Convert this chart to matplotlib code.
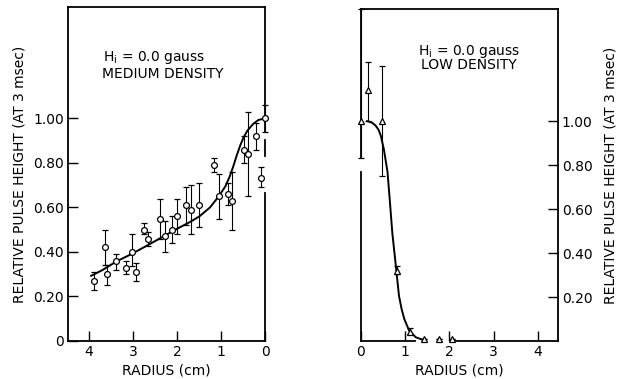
import matplotlib
matplotlib.use("Agg")
import matplotlib.pyplot as plt

# ---------------- data: medium density (left panel) ----------------
med_r = [3.89, 3.64, 3.58, 3.38, 3.15, 3.02, 2.94, 2.74, 2.65, 2.38, 2.28, 2.11,
         1.99, 1.80, 1.69, 1.49, 1.15, 1.05, 0.84, 0.75, 0.48, 0.39, 0.20, 0.00, 0.08]
med_h = [0.27, 0.42, 0.30, 0.36, 0.33, 0.40, 0.31, 0.50, 0.46, 0.55, 0.47, 0.50,
         0.56, 0.61, 0.59, 0.61, 0.79, 0.65, 0.66, 0.63, 0.86, 0.84, 0.92, 1.00, 0.73]
med_hi = [0.31, 0.50, 0.34, 0.39, 0.36, 0.48, 0.35, 0.53, 0.49, 0.64, 0.54, 0.56,
          0.64, 0.69, 0.70, 0.71, 0.82, 0.75, 0.71, 0.76, 0.92, 1.03, 0.98, 1.06, 0.78]
med_lo = [0.23, 0.34, 0.25, 0.32, 0.30, 0.335, 0.27, 0.48, 0.425, 0.46, 0.40, 0.44,
          0.48, 0.52, 0.48, 0.51, 0.76, 0.55, 0.61, 0.50, 0.80, 0.65, 0.86, 0.94, 0.69]
med_curve_r = [3.95, 3.70, 3.38, 3.02, 2.65, 2.28, 1.99, 1.70, 1.49, 1.25, 1.05,
               0.90, 0.80, 0.72, 0.64, 0.56, 0.49, 0.40, 0.27, 0.15, 0.00]
med_curve_h = [0.293, 0.318, 0.357, 0.392, 0.432, 0.473, 0.505, 0.535, 0.560, 0.600, 0.650,
               0.695, 0.740, 0.785, 0.835, 0.880, 0.913, 0.945, 0.975, 0.993, 1.000]

# ---------------- data: low density (right panel) ----------------
low_r = [0.00, 0.17, 0.47, 0.81, 1.10, 1.42, 1.76, 2.06]
low_h = [1.00, 1.14, 1.00, 0.32, 0.04, 0.01, 0.01, 0.01]
low_hi = [1.51, 1.27, 1.25, 0.34, 0.06, 0.01, 0.01, 0.01]
low_lo = [0.83, 1.00, 0.75, 0.305, 0.03, 0.01, 0.01, 0.01]
low_curve_r = [0.14, 0.25, 0.33, 0.40, 0.45, 0.52, 0.56, 0.60, 0.65, 0.71, 0.79,
               0.86, 0.92, 0.98, 1.09, 1.24, 1.39]
low_curve_h = [1.000, 0.993, 0.980, 0.960, 0.933, 0.870, 0.820, 0.770, 0.645, 0.490, 0.340,
               0.205, 0.145, 0.100, 0.047, 0.017, 0.006]

x_ticks = [0, 1, 2, 3, 4]
y_ticks_left = [0, 0.2, 0.4, 0.6, 0.8, 1.0]
y_labels_left = ["0", "0.20", "0.40", "0.60", "0.80", "1.00"]
y_ticks_right = [0.2, 0.4, 0.6, 0.8, 1.0]
y_labels_right = ["0.20", "0.40", "0.60", "0.80", "1.00"]

ylabel_text = "RELATIVE PULSE HEIGHT (AT 3 msec)"
xlabel_text = "RADIUS (cm)"

plt.rcParams['font.family'] = ['DejaVu Sans']
fig = plt.figure(figsize=(6.17, 3.79), dpi=100)
fig.patch.set_facecolor('white')

lw_spine = 1.3
tick_fs = 10
lab_fs = 10
ann_fs = 10

def yerr(h, hi, lo):
    return [[a - b for a, b in zip(h, lo)], [c - a for a, c in zip(h, hi)]]

def unclip(eb):
    arts = [eb.lines[0]] + list(eb.lines[1]) + list(eb.lines[2])
    for art in arts:
        if art is not None:
            art.set_clip_on(False)

# ---------------- left panel ----------------
ax1 = fig.add_axes([0.110, 0.1003, 0.3195, 0.881])
ax1.set_xlim(4.48, 0.0)
ax1.set_ylim(0, 1.5)
eb1 = ax1.errorbar(med_r, med_h, yerr=yerr(med_h, med_hi, med_lo), fmt='o', ms=4.2,
                   mfc='white', mec='black', mew=0.9, ecolor='black', elinewidth=0.8,
                   capsize=2.3, capthick=0.8, zorder=5)
unclip(eb1)
ax1.plot(med_curve_r, med_curve_h, color='black', lw=1.4, zorder=2)
ax1.set_xticks(x_ticks)
ax1.set_xticklabels([str(t) for t in x_ticks], fontsize=tick_fs)
ax1.set_yticks(y_ticks_left)
ax1.set_yticklabels(y_labels_left, fontsize=tick_fs)
ax1.tick_params(direction='in', length=7.5, width=1.0, pad=3)
ax1.set_xlabel(xlabel_text, fontsize=lab_fs, labelpad=3)
ax1.set_ylabel(ylabel_text, fontsize=lab_fs, labelpad=5)
for s in ['left', 'bottom', 'top']:
    ax1.spines[s].set_linewidth(lw_spine)
ax1.spines['right'].set_visible(False)
for lo_, hi_ in [(0.0, 0.667), (0.83, 0.905), (0.94, 1.5)]:
    ax1.plot([0, 0], [lo_, hi_], color='black', lw=lw_spine, clip_on=False, zorder=4)
ax1.text(0.44, 0.85, "H$_\\mathregular{i}$ = 0.0 gauss", transform=ax1.transAxes,
         ha='center', va='center', fontsize=ann_fs)
ax1.text(0.48, 0.80, "MEDIUM DENSITY", transform=ax1.transAxes,
         ha='center', va='center', fontsize=ann_fs)

# ---------------- right panel ----------------
ax2 = fig.add_axes([0.585, 0.1003, 0.319, 0.876])
ax2.set_xlim(0.0, 4.45)
ax2.set_ylim(0, 1.51)
eb2 = ax2.errorbar(low_r, low_h, yerr=yerr(low_h, low_hi, low_lo), fmt='^', ms=4.2,
                   mfc='white', mec='black', mew=0.9, ecolor='black', elinewidth=0.8,
                   capsize=2.3, capthick=0.8, zorder=5)
unclip(eb2)
ax2.plot(low_curve_r, low_curve_h, color='black', lw=1.4, zorder=2)
ax2.set_xticks(x_ticks)
ax2.set_xticklabels([str(t) for t in x_ticks], fontsize=tick_fs)
ax2.set_yticks(y_ticks_right)
ax2.set_yticklabels(y_labels_right, fontsize=tick_fs)
ax2.yaxis.tick_right()
ax2.yaxis.set_label_position('right')
ax2.tick_params(direction='in', length=7.5, width=1.0, pad=3)
ax2.set_xlabel(xlabel_text, fontsize=lab_fs, labelpad=3)
ax2.set_ylabel(ylabel_text, fontsize=lab_fs, labelpad=8)
for s in ['right', 'top']:
    ax2.spines[s].set_linewidth(lw_spine)
ax2.spines['left'].set_visible(False)
ax2.spines['bottom'].set_visible(False)
for lo_, hi_ in [(0.0, 0.77), (0.83, 1.51)]:
    ax2.plot([0, 0], [lo_, hi_], color='black', lw=lw_spine, clip_on=False, zorder=4)
for lo_, hi_ in [(0.0, 1.23), (2.16, 4.45)]:
    ax2.plot([lo_, hi_], [0, 0], color='black', lw=lw_spine, clip_on=False, zorder=4)
ax2.text(0.55, 0.873, "H$_\\mathregular{i}$ = 0.0 gauss", transform=ax2.transAxes,
         ha='center', va='center', fontsize=ann_fs)
ax2.text(0.55, 0.83, "LOW DENSITY", transform=ax2.transAxes,
         ha='center', va='center', fontsize=ann_fs)

fig.savefig("out.png", dpi=100, facecolor='white')
